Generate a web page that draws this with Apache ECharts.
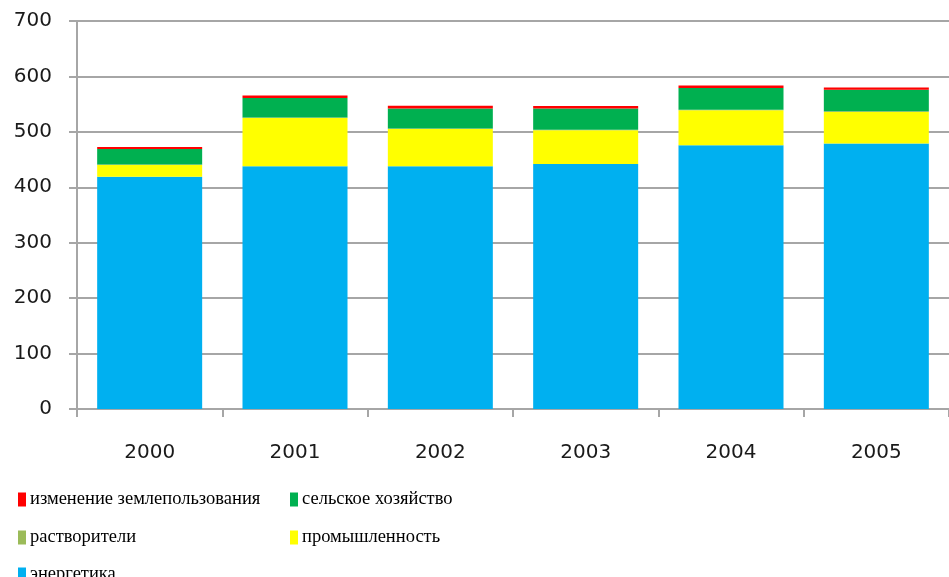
<!DOCTYPE html>
<html>
<head>
<meta charset="utf-8">
<script src="https://cdn.jsdelivr.net/npm/echarts@6/dist/echarts.min.js"></script>
<style>
  html, body { margin: 0; padding: 0; background: #fff; }
  #main { width: 949px; height: 577px; }
</style>
</head>
<body>
<div id="main"></div>
<script>
const years = ['2000', '2001', '2002', '2003', '2004', '2005']
// значения по секторам (снизу вверх в стопке)
const energy = [419, 438, 438, 442, 476, 479]
const industry = [21, 87, 67, 61, 63, 57]
const solvents = [1, 1, 1, 1, 1, 1]
const agriculture = [28, 35, 36, 38, 39, 39]
const landUse = [3.5, 4.5, 5, 4.5, 4.5, 4]
const yTicks = [0, 100, 200, 300, 400, 500, 600, 700]

const names = {
  landUse: 'изменение землепользования',
  agriculture: 'сельское хозяйство',
  solvents: 'растворители',
  industry: 'промышленность',
  energy: 'энергетика'
}

const gray = '#a6a6a6'

// легенда: две колонки, каждая строка отдельно
function legendRow(name, left, top) {
  return {
    left: left,
    top: top,
    padding: 0,
    itemWidth: 8,
    itemHeight: 14,
    icon: 'rect',
    selectedMode: false,
    textStyle: { fontFamily: 'Liberation Serif', fontSize: 18.5, color: '#000', padding: [0, 0, 0, -1] },
    data: [name]
  }
}

function bar(name, data, color) {
  return {
    name: name,
    type: 'bar',
    stack: 'total',
    barWidth: 105,
    data: data,
    itemStyle: { color: color },
    emphasis: { disabled: true }
  }
}

let myEcharts = echarts.init(document.querySelector('#main'))
let option = {
  animation: false,
  backgroundColor: '#fff',
  grid: {
    left: 77,
    right: -13,
    top: 21,
    bottom: 168,
    containLabel: false
  },
  legend: [
    legendRow(names.landUse, 18, 490),
    legendRow(names.solvents, 18, 528),
    legendRow(names.energy, 18, 565),
    legendRow(names.agriculture, 290, 490),
    legendRow(names.industry, 290, 528)
  ],
  xAxis: {
    type: 'category',
    data: years,
    axisLine: { show: true, lineStyle: { color: gray, width: 2 } },
    axisTick: { show: true, length: 8, lineStyle: { color: gray, width: 2 } },
    axisLabel: {
      margin: 34,
      fontFamily: 'DejaVu Sans',
      fontSize: 20,
      color: '#1a1a1a'
    }
  },
  yAxis: {
    type: 'value',
    min: yTicks[0],
    max: yTicks[yTicks.length - 1],
    interval: 100,
    axisLine: { show: true, lineStyle: { color: gray, width: 2 } },
    axisTick: { show: true, length: 8, lineStyle: { color: gray, width: 2 } },
    splitLine: { show: true, lineStyle: { color: gray, width: 2 } },
    axisLabel: {
      margin: 25,
      fontFamily: 'DejaVu Sans',
      fontSize: 20,
      color: '#1a1a1a'
    }
  },
  series: [
    bar(names.energy, energy, '#00b0f0'),
    bar(names.industry, industry, '#ffff00'),
    bar(names.solvents, solvents, '#9bbb59'),
    bar(names.agriculture, agriculture, '#00b050'),
    bar(names.landUse, landUse, '#ff0000')
  ]
}
myEcharts.setOption(option)
</script>
</body>
</html>
